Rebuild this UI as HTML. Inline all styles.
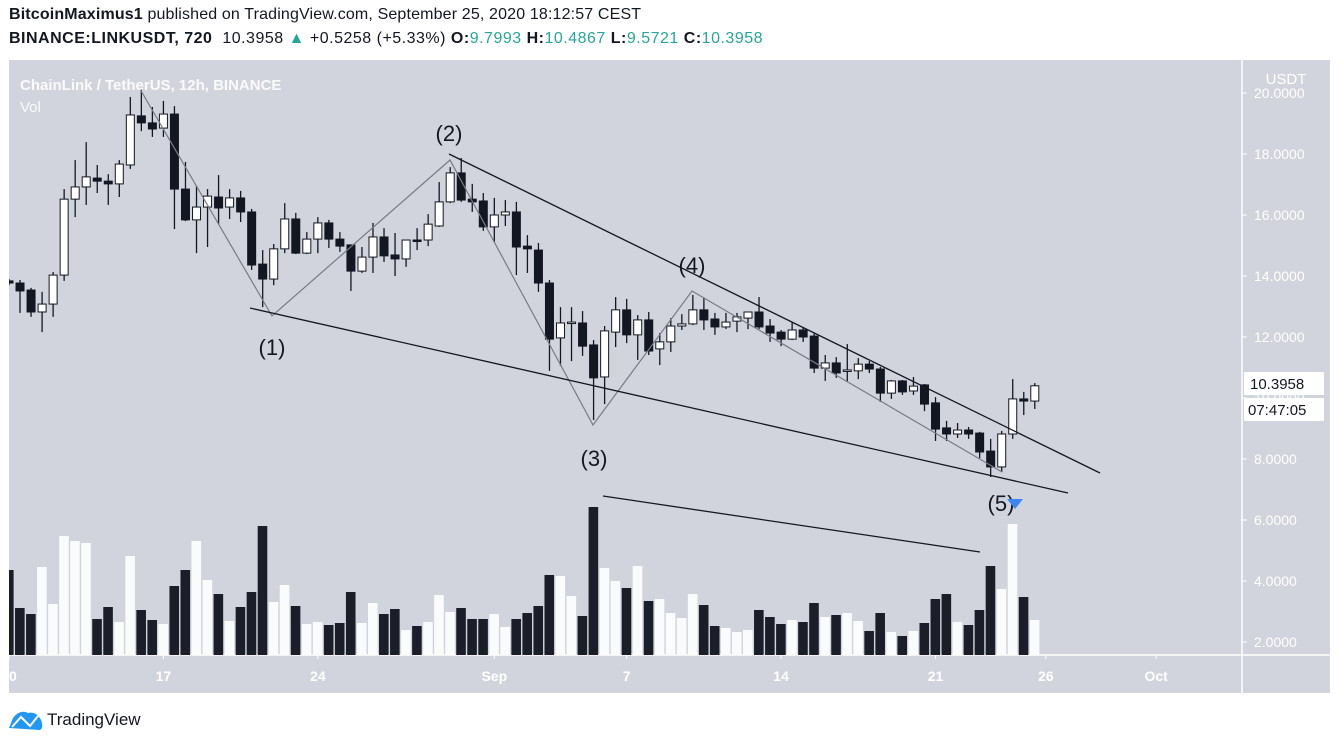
<!DOCTYPE html>
<html><head><meta charset="utf-8"><style>
html,body{margin:0;padding:0;background:#fff;width:1339px;height:744px;overflow:hidden;font-family:"Liberation Sans",sans-serif}
#hdr1{position:absolute;left:9px;top:6px;font-size:16px;color:#131722;letter-spacing:0.15px}
#hdr2{position:absolute;left:9px;top:30px;font-size:16px;color:#131722;letter-spacing:0.5px}
.g{color:#26a69a}
svg{position:absolute;left:0;top:0}
</style></head><body>
<div id="hdr1"><b>BitcoinMaximus1</b> published on TradingView.com, September 25, 2020 18:12:57 CEST</div>
<div id="hdr2"><b>BINANCE:LINKUSDT, 720</b>&nbsp; 10.3958 <span class="g">▲</span> +0.5258 (+5.33%) <b>O:</b><span class="g">9.7993</span> <b>H:</b><span class="g">10.4867</span> <b>L:</b><span class="g">9.5721</span> <b>C:</b><span class="g">10.3958</span></div>
<svg id="chart" width="1339" height="744">
<defs><clipPath id="plotclip"><rect x="9" y="60" width="1233" height="595"/></clipPath></defs>
<rect x="9" y="60" width="1321" height="633" fill="#d1d4dc"/>
<line x1="1242" y1="60" x2="1242" y2="693" stroke="#fff" stroke-width="1.5"/>
<line x1="9" y1="655" x2="1330" y2="655" stroke="#fff" stroke-width="1.5"/>
<g id="vol" clip-path="url(#plotclip)"></g>
<g id="candles" clip-path="url(#plotclip)"></g>
<g id="ann" clip-path="url(#plotclip)" fill="none">
<polyline points="140,89 272,316 450,160 593,425 692,291 1002,472" stroke="#787b86" stroke-width="1.2"/>
<line x1="449" y1="154" x2="1100" y2="473" stroke="#131722" stroke-width="1.3"/>
<line x1="250" y1="308" x2="1068" y2="493" stroke="#131722" stroke-width="1.3"/>
<line x1="603" y1="496" x2="980" y2="552" stroke="#131722" stroke-width="1.3"/>
</g>
<g font-family="Liberation Sans, sans-serif" font-size="22" fill="#131722" text-anchor="middle">
<text x="272" y="355">(1)</text>
<text x="449" y="141">(2)</text>
<text x="594" y="466">(3)</text>
<text x="692" y="273">(4)</text>
<text x="1001" y="511">(5)</text>
</g>
<polygon points="1007,499 1023,499 1015,509" fill="#3d86f0"/>
<g font-family="Liberation Sans, sans-serif" font-size="15" font-weight="bold" fill="#fff" opacity="0.9">
<text x="20" y="90">ChainLink / TetherUS, 12h, BINANCE</text>
<text x="20" y="112" font-weight="normal">Vol</text>
</g>
<g id="yticks" font-family="Liberation Sans, sans-serif" font-size="14" fill="#fff"></g>
<rect x="1262" y="68" width="50" height="20" fill="#d1d4dc"/>
<text x="1286" y="84" font-size="15" fill="#fff" text-anchor="middle">USDT</text>
<g id="xticks" font-family="Liberation Sans, sans-serif" font-size="14" font-weight="bold" fill="#fff" text-anchor="middle"></g>
<rect x="1244" y="372" width="80" height="23" fill="#fff"/>
<text x="1250" y="389" font-size="15" fill="#131722">10.3958</text>
<rect x="1244" y="398" width="80" height="23" fill="#fff"/>
<text x="1248" y="415" font-size="15" fill="#131722">07:47:05</text>
<g>
<path d="M9 728 L13 718 Q20 709 28 713 Q36 711 41 720 Q44 728 40 730 Z" fill="#2196f3"/>
<polyline points="12,727 21,717 30,726 38,716" stroke="#fff" stroke-width="2" fill="none"/>
<text x="47" y="725" font-size="17" fill="#131722">TradingView</text>
</g>
</svg>
<script>
const opens=[13.84,13.77,13.54,12.82,13.08,14.03,16.52,16.92,17.21,17.11,17.02,17.64,19.25,19.02,18.85,19.31,16.85,15.84,16.26,16.59,16.26,16.56,16.10,14.39,13.90,14.89,15.87,14.75,15.21,15.74,15.21,15.02,14.16,14.62,15.28,14.69,14.56,15.18,15.18,15.64,16.43,17.38,16.52,16.46,15.61,16.00,16.10,14.98,14.85,13.77,11.97,12.46,12.46,11.74,10.69,12.16,12.89,12.07,12.56,11.61,11.84,12.36,12.43,12.89,12.59,12.33,12.52,12.62,12.82,12.36,12.16,11.93,12.23,12.03,10.98,11.15,10.89,10.89,11.11,10.95,10.16,10.56,10.23,10.43,9.84,9.02,8.82,8.95,8.85,8.26,7.74,8.82,9.97,9.90];
const highs=[13.90,13.87,13.61,13.48,14.13,16.85,17.80,18.39,17.64,17.34,17.80,19.87,20.13,19.54,19.74,19.57,17.74,16.95,16.85,17.31,16.85,16.79,16.20,14.85,15.05,16.39,16.07,15.44,15.93,15.84,15.44,15.02,14.95,15.74,15.57,15.41,15.18,15.57,16.03,17.08,17.57,17.87,17.02,16.72,16.56,16.49,16.43,15.34,15.08,13.87,12.98,12.98,12.85,11.90,12.36,13.31,13.25,12.72,12.82,12.13,12.62,12.75,13.38,13.28,12.79,12.79,12.79,12.82,13.31,12.59,12.23,12.49,12.33,12.13,11.41,11.34,11.77,11.31,11.21,11.02,10.59,10.59,10.69,10.46,10.03,9.25,9.18,9.05,8.89,8.66,8.92,10.62,10.20,10.49];
const lows=[13.70,12.79,12.66,12.16,12.66,13.84,15.93,16.33,16.72,16.33,16.59,17.51,18.75,18.56,18.56,15.54,15.80,14.75,14.95,15.70,15.87,15.77,14.20,12.98,13.70,14.75,14.72,14.72,14.75,14.92,14.79,13.51,14.10,14.10,14.46,14.00,14.30,14.85,14.98,15.61,16.39,16.43,16.10,15.48,15.11,15.64,14.03,14.10,13.48,10.89,11.05,11.21,11.38,9.28,9.80,11.67,11.80,11.25,11.41,11.08,11.51,12.23,12.39,12.23,12.07,12.26,12.16,12.26,12.26,11.84,11.70,11.90,11.84,10.82,10.56,10.66,10.52,10.62,10.82,9.87,9.97,10.10,10.10,9.57,8.59,8.59,8.69,8.66,8.03,7.41,7.57,8.66,9.44,9.64];
const closes=[13.77,13.51,12.82,13.08,14.03,16.52,16.92,17.25,17.11,17.02,17.67,19.28,19.02,18.82,19.31,16.85,15.84,16.26,16.62,16.23,16.56,16.10,14.36,13.90,14.89,15.87,14.75,15.21,15.74,15.21,14.98,14.16,14.62,15.28,14.66,14.56,15.18,15.15,15.70,16.43,17.38,16.49,16.43,15.61,16.00,16.10,14.95,14.89,13.77,11.93,12.46,12.49,11.70,10.66,12.20,12.89,12.07,12.56,11.54,11.84,12.36,12.43,12.89,12.56,12.33,12.49,12.66,12.82,12.33,12.13,11.93,12.23,12.00,10.98,11.15,10.82,10.92,11.11,10.95,10.16,10.56,10.20,10.39,9.80,8.98,8.82,8.95,8.82,8.23,7.74,8.82,9.97,9.90,10.40];
const volumes=[850,470,410,880,510,1190,1140,1120,360,480,330,990,450,350,310,690,850,1140,750,610,340,480,630,1290,530,700,490,310,330,300,320,630,320,520,410,460,250,290,330,600,430,470,360,360,410,280,360,420,490,800,790,590,390,1480,870,740,670,890,540,560,420,370,610,500,290,270,230,250,450,380,310,350,330,520,380,400,420,340,240,420,230,190,240,320,560,610,330,300,450,890,660,1310,580,350];
const priceTicks=[20,18,16,14,12,10,8,6,4,2];
const timeLabels=["10","17","24","Sep","7","14","21","26","Oct"];
const timeIdx=[0,14,28,44,56,70,84,94,104];

const NS="http://www.w3.org/2000/svg";
function xOf(i){return 9+i*11.03;}
function yOf(p){return 703-p*30.5;}
function vOf(v){return v/10;}
function mk(tag,attrs,parent){const e=document.createElementNS(NS,tag);for(const k in attrs)e.setAttribute(k,attrs[k]);parent.appendChild(e);return e;}
const gV=document.getElementById('vol'),gC=document.getElementById('candles');
for(let i=0;i<opens.length;i++){
  const up=closes[i]>=opens[i];
  const x=xOf(i);
  const h=vOf(volumes[i]);
  const vb=mk('rect',{x:x-5,y:655-h,width:9.6,height:h,fill:up?'#fafbfb':'#1b1e29'},gV);
  
  
  const w=mk('line',{x1:x,x2:x,y1:yOf(highs[i]),y2:yOf(lows[i]),stroke:'#131722','stroke-width':1.3},gC);
  
  
  const top=yOf(Math.max(opens[i],closes[i])),bot=yOf(Math.min(opens[i],closes[i]));
  const b=mk('rect',{x:x-4,y:top,width:8,height:Math.max(bot-top,1.5),fill:up?'#fff':'#131722',stroke:'#131722','stroke-width':1},gC);
  
  
}
const gY=document.getElementById('yticks');
priceTicks.forEach(p=>{
  const y=yOf(p);
  const t=mk('line',{x1:1242,x2:1247,y1:y,y2:y,stroke:'#fff'},gY);
  
  
  const tx=mk('text',{x:1254,y:y+5},gY);
  tx.textContent=p.toFixed(4);
  
  
});
const gX=document.getElementById('xticks');
timeLabels.forEach((l,k)=>{
  const x=xOf(timeIdx[k]);
  const t=mk('line',{x1:x,x2:x,y1:655,y2:659,stroke:'#fff'},gX);
  
  
  const tx=mk('text',{x:x,y:681},gX);
  tx.textContent=l;
  
  
});
</script>
</body></html>
